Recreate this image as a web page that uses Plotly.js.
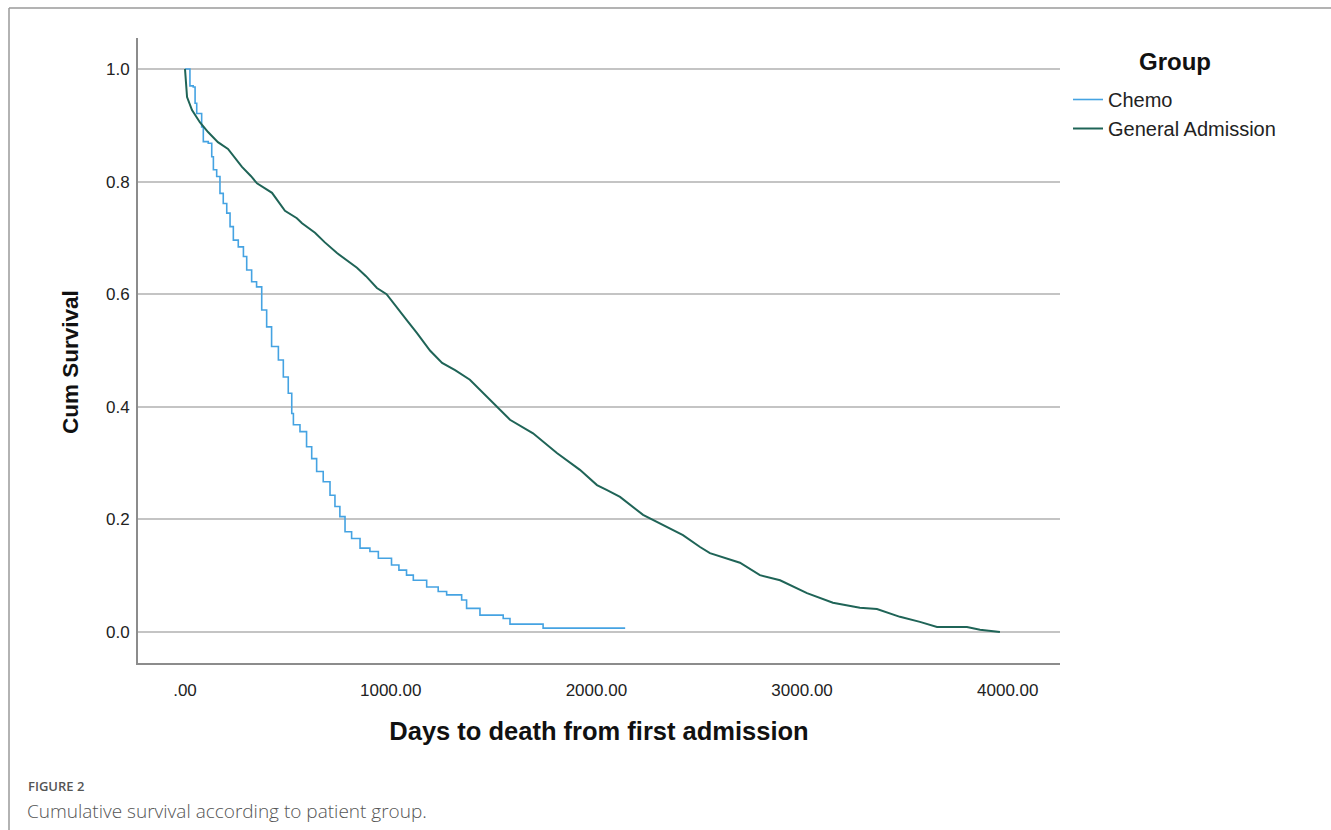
<!DOCTYPE html>
<html>
<head>
<meta charset="utf-8">
<script src="https://cdn.plot.ly/plotly-3.0.1.min.js"></script>
<style>
  html, body { margin: 0; padding: 0; background: #ffffff; }
  #chart { width: 1331px; height: 830px; }
</style>
</head>
<body>
<div id="chart"></div>
<script>
// ---- Data (Kaplan-Meier estimates) ----
const chemoDays = [0, 10, 24, 40, 49, 57, 81, 89, 113, 130, 138, 154, 170, 186, 203, 219, 235, 259, 284, 300, 324, 348, 373, 397, 421, 454, 478, 502, 519, 527, 559, 591, 616, 640, 672, 705, 729, 753, 778, 810, 851, 899, 940, 1004, 1040, 1077, 1110, 1175, 1231, 1272, 1345, 1369, 1434, 1547, 1580, 1741, 2140];
const chemoSurv = [1.0, 1.0, 0.97, 0.968, 0.939, 0.921, 0.897, 0.871, 0.868, 0.844, 0.821, 0.809, 0.779, 0.761, 0.744, 0.720, 0.696, 0.684, 0.667, 0.643, 0.622, 0.613, 0.572, 0.542, 0.507, 0.483, 0.453, 0.424, 0.388, 0.368, 0.356, 0.329, 0.308, 0.285, 0.267, 0.243, 0.223, 0.205, 0.178, 0.166, 0.149, 0.143, 0.131, 0.119, 0.110, 0.101, 0.092, 0.080, 0.072, 0.066, 0.057, 0.042, 0.030, 0.024, 0.014, 0.007, 0.007];

const genDays = [0, 5, 10, 34, 73, 112, 160, 209, 253, 277, 320, 350, 423, 486, 544, 569, 632, 680, 739, 790, 836, 880, 933, 980, 1031, 1080, 1128, 1191, 1250, 1313, 1385, 1483, 1580, 1692, 1808, 1920, 2003, 2052, 2115, 2227, 2343, 2421, 2504, 2552, 2698, 2795, 2893, 3024, 3150, 3281, 3364, 3476, 3573, 3656, 3802, 3865, 3962];
const genSurv = [1.0, 0.97, 0.95, 0.927, 0.905, 0.888, 0.870, 0.858, 0.838, 0.826, 0.81, 0.797, 0.780, 0.748, 0.735, 0.726, 0.709, 0.692, 0.673, 0.66, 0.647, 0.632, 0.611, 0.600, 0.575, 0.553, 0.531, 0.500, 0.478, 0.465, 0.448, 0.412, 0.377, 0.353, 0.318, 0.288, 0.261, 0.252, 0.240, 0.208, 0.187, 0.172, 0.151, 0.140, 0.123, 0.101, 0.092, 0.069, 0.052, 0.043, 0.041, 0.027, 0.018, 0.009, 0.009, 0.004, 0.0];

const groupNames = ["Chemo", "General Admission"];
const xTickVals = [0, 1000, 2000, 3000, 4000];
const xTickText = [".00", "1000.00", "2000.00", "3000.00", "4000.00"];
const yTickVals = [0, 0.2, 0.4, 0.6, 0.8, 1.0];
const yTickText = ["0.0", "0.2", "0.4", "0.6", "0.8", "1.0"];

// ---- Layout geometry (pixels) ----
const W = 1331, H = 830;
const L = 138, R = 1060, T = 38, B = 663;
const pw = R - L, ph = B - T;
const px = x => (x - L) / pw;        // pixel -> paper x
const py = y => (B - y) / ph;        // pixel -> paper y

const FONT = "Liberation Sans, Arial, sans-serif";

const traces = [
  {
    x: chemoDays, y: chemoSurv, name: groupNames[0],
    type: "scatter", mode: "lines",
    line: { shape: "hv", color: "#45a3e2", width: 1.6 }
  },
  {
    x: genDays, y: genSurv, name: groupNames[1],
    type: "scatter", mode: "lines",
    line: { shape: "linear", color: "#1f6457", width: 2 }
  }
];

const layout = {
  width: W, height: H,
  margin: { l: L, r: W - R, t: T, b: H - B, pad: 0 },
  paper_bgcolor: "#ffffff",
  plot_bgcolor: "#ffffff",
  showlegend: true,
  xaxis: {
    range: [-228.5, 4254],
    tickvals: xTickVals, ticktext: xTickText,
    ticks: "", showgrid: false, zeroline: false,
    showline: true, linecolor: "#8c8c8c", linewidth: 2,
    tickfont: { family: FONT, size: 17, color: "#222222" },
    ticklabelstandoff: 11,
    title: { text: "Days to death from first admission",
             font: { family: FONT, size: 25.5, color: "#111111", weight: "bold" },
             standoff: 23 },
    fixedrange: true
  },
  yaxis: {
    range: [-0.055, 1.055],
    tickvals: yTickVals, ticktext: yTickText,
    ticks: "", showgrid: true, gridcolor: "#c4c4c4", gridwidth: 2,
    zeroline: false,
    showline: true, linecolor: "#8c8c8c", linewidth: 2,
    tickfont: { family: FONT, size: 17, color: "#222222" },
    ticklabelstandoff: 3,
    fixedrange: true
  },
  legend: {
    x: px(1068), y: py(80), xanchor: "left", yanchor: "top",
    font: { family: FONT, size: 20, color: "#222222" },
    bgcolor: "rgba(0,0,0,0)", borderwidth: 0,
    itemwidth: 30, tracegroupgap: 0
  },
  annotations: [
    { text: "<b>Cum Survival</b>", xref: "paper", yref: "paper",
      x: px(70), y: py(362), xanchor: "center", yanchor: "middle", textangle: -90,
      showarrow: false, font: { family: FONT, size: 22.5, color: "#111111" } },
    { text: "<b>Group</b>", xref: "paper", yref: "paper",
      x: px(1175), y: py(62), xanchor: "center", yanchor: "middle",
      showarrow: false, font: { family: FONT, size: 24, color: "#111111" } },
    { text: "FIGURE 2", xref: "paper", yref: "paper",
      x: px(26), y: py(786), xanchor: "left", yanchor: "middle",
      showarrow: false, font: { family: "Open Sans, sans-serif", size: 13, color: "#555555", weight: 600 } },
    { text: "Cumulative survival according to patient group.", xref: "paper", yref: "paper",
      x: px(25), y: py(811), xanchor: "left", yanchor: "middle",
      showarrow: false, font: { family: "Open Sans, sans-serif", size: 19, color: "#555555", weight: 300 } }
  ],
  shapes: [
    { type: "line", xref: "paper", yref: "paper", x0: px(9), x1: px(1331), y0: py(8), y1: py(8),
      line: { color: "#9a9a9a", width: 1.5 } },
    { type: "line", xref: "paper", yref: "paper", x0: px(9), x1: px(9), y0: py(8), y1: py(830),
      line: { color: "#9a9a9a", width: 1.5 } }
  ]
};

Plotly.newPlot("chart", traces, layout, { displayModeBar: false, staticPlot: true });
</script>
</body>
</html>
